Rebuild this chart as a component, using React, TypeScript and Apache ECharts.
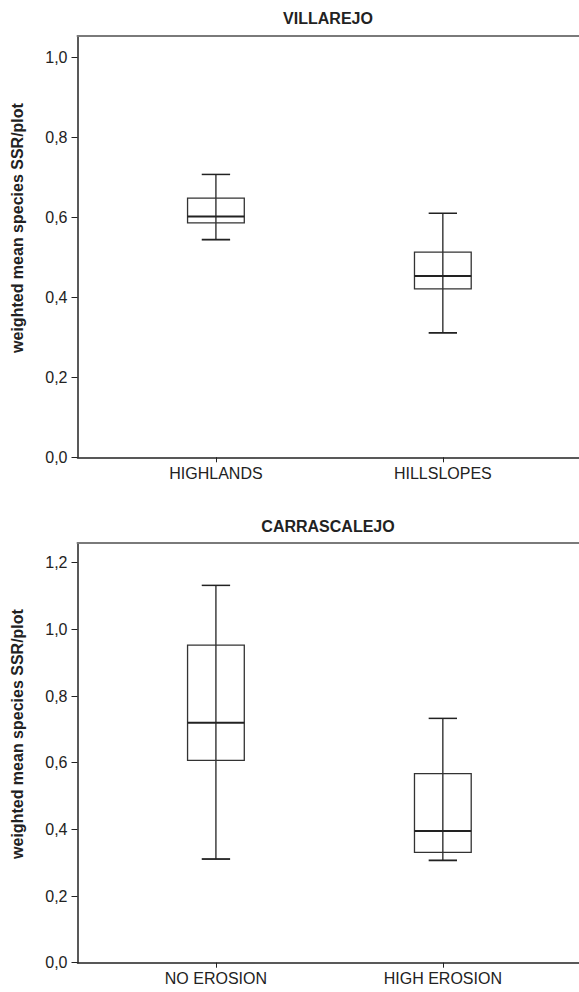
import React, { useEffect, useRef } from "react";
import * as echarts from "echarts";

const topTitle = "VILLAREJO";
const bottomTitle = "CARRASCALEJO";
const yAxisTitle = "weighted mean species SSR/plot";
const topCategories = ["HIGHLANDS", "HILLSLOPES"];
const bottomCategories = ["NO EROSION", "HIGH EROSION"];
// [min, Q1, median, Q3, max]
const topStats = [
  [0.544, 0.586, 0.602, 0.648, 0.707],
  [0.311, 0.421, 0.453, 0.513, 0.61],
];
const bottomStats = [
  [0.311, 0.607, 0.72, 0.953, 1.132],
  [0.307, 0.331, 0.395, 0.567, 0.733],
];
const topTicks = [0, 0.2, 0.4, 0.6, 0.8, 1.0];
const bottomTicks = [0, 0.2, 0.4, 0.6, 0.8, 1.0, 1.2];
const catPositions = [1, 2];

const FONT = "Liberation Sans, Arial, Helvetica, sans-serif";
const INK = "#222";

function renderBox(params: any, api: any) {
  const x = api.value(0);
  const mn = api.value(1);
  const q1 = api.value(2);
  const med = api.value(3);
  const q3 = api.value(4);
  const mx = api.value(5);
  const c = api.coord([x, mn]);
  const pQ1 = api.coord([x, q1]);
  const pMed = api.coord([x, med]);
  const pQ3 = api.coord([x, q3]);
  const pMax = api.coord([x, mx]);
  const boxW = api.size([0.25, 0])[0];
  const capW = api.size([0.125, 0])[0];
  const cx = c[0];
  const st = { stroke: INK, lineWidth: 1.3, fill: null };
  return {
    type: "group",
    children: [
      { type: "line", shape: { x1: cx, y1: c[1], x2: cx, y2: pMax[1] }, style: st },
      { type: "line", shape: { x1: cx - capW / 2, y1: c[1], x2: cx + capW / 2, y2: c[1] }, style: { ...st, lineWidth: 1.8 } },
      { type: "line", shape: { x1: cx - capW / 2, y1: pMax[1], x2: cx + capW / 2, y2: pMax[1] }, style: { ...st, lineWidth: 1.5 } },
      { type: "rect", shape: { x: cx - boxW / 2, y: pQ3[1], width: boxW, height: pQ1[1] - pQ3[1] }, style: { stroke: "#333", lineWidth: 1.3, fill: "transparent" } },
      { type: "line", shape: { x1: cx - boxW / 2, y1: pMed[1], x2: cx + boxW / 2, y2: pMed[1] }, style: { ...st, lineWidth: 2 } },
    ],
  };
}

function xAxes(gridIndex: number, cats: string[]) {
  return [
    {
      type: "value",
      gridIndex,
      min: 0.39,
      max: 2.6,
      splitLine: { show: false },
      axisLine: { show: true, onZero: false, lineStyle: { color: INK, width: 1.5 } },
      axisTick: { show: true, length: 5, customValues: catPositions, lineStyle: { color: INK, width: 1 } },
      axisLabel: {
        show: true,
        customValues: catPositions,
        margin: 8,
        fontFamily: FONT,
        fontSize: 16,
        color: INK,
        formatter: (v: number) => cats[Math.round(v) - 1] ?? "",
      },
    },
    {
      type: "value",
      gridIndex,
      position: "top",
      min: 0.39,
      max: 2.6,
      splitLine: { show: false },
      axisLine: { show: true, onZero: false, lineStyle: { color: "#7a7a7a", width: 2 } },
      axisTick: { show: false },
      axisLabel: { show: false },
    },
  ];
}

function yAxis(gridIndex: number, max: number, ticks: number[]) {
  return {
    type: "value",
    gridIndex,
    min: 0,
    max,
    splitLine: { show: false },
    axisLine: { show: true, onZero: false, lineStyle: { color: INK, width: 1.5 } },
    axisTick: { show: true, length: 6, customValues: ticks, lineStyle: { color: INK, width: 1 } },
    axisLabel: {
      show: true,
      customValues: ticks,
      margin: 10,
      fontFamily: FONT,
      fontSize: 16,
      color: INK,
      formatter: (v: number) => v.toFixed(1).replace(".", ","),
    },
  };
}

function titleText(text: string, x: number, y: number) {
  return {
    type: "text",
    x,
    y,
    style: { text, font: `bold 16px ${FONT}`, fill: INK, align: "center", verticalAlign: "middle" },
  };
}

function yTitleText(y: number) {
  return {
    type: "text",
    x: 17,
    y,
    rotation: Math.PI / 2,
    style: { text: yAxisTitle, font: `bold 16px ${FONT}`, fill: INK, align: "center", verticalAlign: "middle" },
  };
}

export default function App() {
  const ref = useRef<HTMLDivElement>(null);
  useEffect(() => {
    if (!ref.current) return;
    const chart = echarts.init(ref.current, null, { renderer: "svg" });
    const topData = topStats.map((s, i) => [catPositions[i], ...s]);
    const bottomData = bottomStats.map((s, i) => [catPositions[i], ...s]);
    chart.setOption({
      animation: false,
      backgroundColor: "#fff",
      grid: [
        { left: 77.5, top: 36, width: 502, height: 421.3 },
        { left: 77.5, top: 542.7, width: 502, height: 420 },
      ],
      xAxis: [...xAxes(0, topCategories), ...xAxes(1, bottomCategories)],
      yAxis: [yAxis(0, 1.053, topTicks), yAxis(1, 1.26, bottomTicks)],
      graphic: [
        titleText(topTitle, 328, 18),
        titleText(bottomTitle, 328, 526),
        yTitleText(228),
        yTitleText(734),
      ],
      series: [
        {
          type: "custom",
          xAxisIndex: 0,
          yAxisIndex: 0,
          renderItem: renderBox,
          data: topData,
          encode: { x: 0, y: [1, 2, 3, 4, 5] },
          clip: false,
        },
        {
          type: "custom",
          xAxisIndex: 2,
          yAxisIndex: 1,
          renderItem: renderBox,
          data: bottomData,
          encode: { x: 0, y: [1, 2, 3, 4, 5] },
          clip: false,
        },
      ],
    });
    return () => chart.dispose();
  }, []);
  return (
    <div
      ref={ref}
      style={{ position: "fixed", left: 0, top: 0, width: 579, height: 992, background: "#fff" }}
    />
  );
}
